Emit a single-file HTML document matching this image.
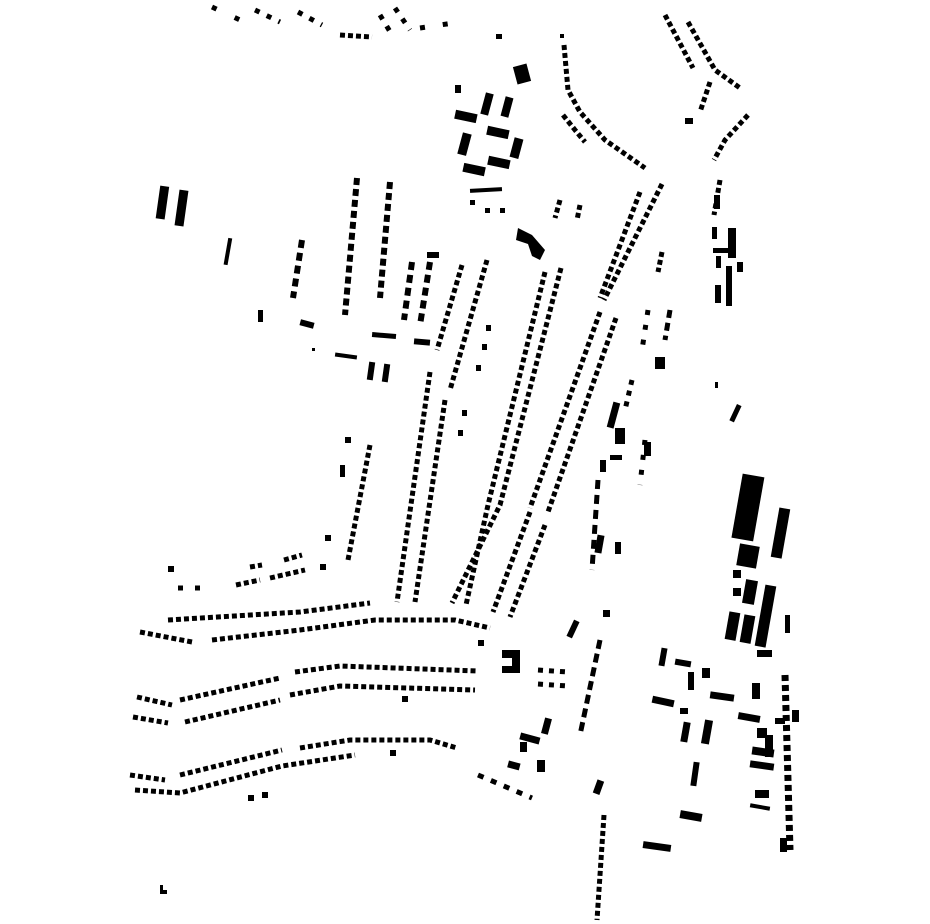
<!DOCTYPE html>
<html><head><meta charset="utf-8"><style>
html,body{margin:0;padding:0;background:#fff;}
svg{display:block}
</style></head><body>
<svg width="930" height="924" viewBox="0 0 930 924" xmlns="http://www.w3.org/2000/svg">
<g fill="none" stroke="#000" stroke-width="5" stroke-dasharray="5 3">
<!-- long central diagonals -->
<polyline points="662,184 604,300"/>
<polyline points="640,192 600,298"/>
<polyline points="616,318 548,512"/>
<polyline points="600,312 530,508"/>
<polyline points="545,525 510,617"/>
<polyline points="530,512 493,612"/>
<polyline points="545,272 488,505 466,605"/>
<polyline points="561,268 500,505 452,603"/>
<polyline points="487,260 450,390"/>
<polyline points="462,265 437,350"/>
<polyline points="430,372 397,602"/>
<polyline points="445,400 415,602"/>
<polyline points="370,445 348,560"/>
<polyline points="662,252 658,272"/>
<polyline points="560,200 555,218"/>
<polyline points="580,205 577,220"/>
<!-- columns left -->
<polyline points="357,178 345,315" stroke-dasharray="7 4" stroke-width="6"/>
<polyline points="390,182 380,298" stroke-dasharray="7 4" stroke-width="6"/>
<polyline points="302,240 293,298" stroke-dasharray="8 5" stroke-width="6"/>
<polyline points="412,262 404,320" stroke-dasharray="8 5" stroke-width="6"/>
<polyline points="430,262 420,325" stroke-dasharray="8 5" stroke-width="6"/>
<!-- top curve -->
<polyline points="564,45 568,90 580,112 605,140 645,168"/>
<polyline points="563,115 575,130 585,142"/>
<polyline points="688,22 715,70 740,88"/>
<polyline points="665,15 693,68"/>
<polyline points="748,115 725,140 714,160"/>
<polyline points="710,82 700,112"/>
<polyline points="720,180 714,215"/>
<!-- top left dots -->
<polyline points="212,7 240,20" stroke-dasharray="5 20"/>
<polyline points="255,10 280,22" stroke-dasharray="5 8"/>
<polyline points="298,12 322,25" stroke-dasharray="5 8"/>
<polyline points="340,35 372,37"/>
<polyline points="380,15 392,35" stroke-dasharray="5 8"/>
<polyline points="395,8 410,30" stroke-dasharray="5 8"/>
<polyline points="420,28 460,22" stroke-dasharray="5 18"/>
<!-- horizontal rows bottom -->
<polyline points="140,632 192,642"/>
<polyline points="212,640 300,630 375,620 455,620 490,628"/>
<polyline points="168,620 300,612 370,603"/>
<polyline points="178,588 200,588" stroke-dasharray="5 12"/>
<polyline points="236,585 260,580"/>
<polyline points="270,578 305,570"/>
<polyline points="250,567 262,565"/>
<polyline points="284,560 302,555"/>
<polyline points="137,697 172,705"/>
<polyline points="185,722 280,700"/>
<polyline points="180,700 280,678"/>
<polyline points="290,695 340,686 475,690"/>
<polyline points="295,672 340,666 478,671"/>
<polyline points="133,717 168,723"/>
<polyline points="130,775 165,780"/>
<polyline points="180,775 282,750"/>
<polyline points="300,748 350,740 430,740 457,748"/>
<polyline points="135,790 180,793 282,766 355,755"/>
<polyline points="538,670 568,672" stroke-dasharray="5 6"/>
<polyline points="538,684 568,686" stroke-dasharray="5 6"/>
<polyline points="604,815 597,920"/>
<polyline points="598,480 592,570" stroke-dasharray="9 6"/>
<polyline points="600,640 580,735" stroke-dasharray="9 5"/>
<polyline points="785,675 790,850" stroke-dasharray="6 4" stroke-width="7"/>
<polyline points="670,310 665,340" stroke-dasharray="8 5"/>
<polyline points="648,310 642,350" stroke-dasharray="5 10"/>
<polyline points="632,380 625,410" stroke-dasharray="5 6"/>
<polyline points="645,440 640,485" stroke-dasharray="5 10"/>
<polyline points="478,775 532,798" stroke-dasharray="6 8"/>
</g>
<g fill="#000">
<!-- top buildings -->
<rect x="515" y="65" width="14" height="18" transform="rotate(-15 522 74)"/>
<rect x="483" y="93" width="8" height="22" transform="rotate(15 487 104)"/>
<rect x="503" y="97" width="8" height="20" transform="rotate(15 507 107)"/>
<rect x="455" y="112" width="22" height="9" transform="rotate(12 466 116)"/>
<rect x="460" y="133" width="9" height="22" transform="rotate(15 464 144)"/>
<rect x="487" y="128" width="22" height="9" transform="rotate(12 498 132)"/>
<rect x="512" y="138" width="9" height="20" transform="rotate(15 516 148)"/>
<rect x="463" y="165" width="22" height="9" transform="rotate(12 474 170)"/>
<rect x="488" y="158" width="22" height="9" transform="rotate(12 499 162)"/>
<rect x="470" y="188" width="32" height="4" transform="rotate(-3 486 190)"/>
<rect x="470" y="200" width="5" height="5"/><rect x="485" y="208" width="5" height="5"/><rect x="500" y="208" width="5" height="5"/>
<rect x="455" y="85" width="6" height="8"/><rect x="496" y="34" width="6" height="5"/>
<path d="M518 228 L532 235 L545 250 L540 260 L532 256 L528 244 L516 240 Z"/>
<!-- left buildings -->
<rect x="158" y="186" width="9" height="33" transform="rotate(8 162 202)"/>
<rect x="177" y="190" width="9" height="36" transform="rotate(8 181 208)"/>
<rect x="226" y="238" width="4" height="27" transform="rotate(10 228 251)"/>
<rect x="258" y="310" width="5" height="12"/>
<rect x="300" y="321" width="14" height="6" transform="rotate(15 307 324)"/>
<rect x="335" y="354" width="22" height="4" transform="rotate(8 346 356)"/>
<rect x="372" y="333" width="24" height="5" transform="rotate(5 384 336)"/>
<rect x="414" y="339" width="16" height="6" transform="rotate(5 422 342)"/>
<rect x="368" y="362" width="6" height="18" transform="rotate(8 371 371)"/>
<rect x="383" y="364" width="6" height="18" transform="rotate(8 386 373)"/>
<rect x="427" y="252" width="12" height="6"/>
<rect x="160" y="885" width="3" height="9"/><rect x="160" y="890" width="7" height="4"/>
<!-- central right small blocks -->
<rect x="610" y="402" width="7" height="26" transform="rotate(15 613 415)"/>
<rect x="615" y="428" width="10" height="16"/>
<rect x="655" y="357" width="10" height="12"/>
<rect x="610" y="455" width="12" height="5"/>
<rect x="644" y="442" width="7" height="14"/>
<rect x="600" y="460" width="6" height="12"/>
<rect x="733" y="404" width="5" height="18" transform="rotate(25 735 413)"/>
<rect x="715" y="382" width="3" height="6"/>
<rect x="596" y="535" width="7" height="18" transform="rotate(10 599 544)"/>
<rect x="615" y="542" width="6" height="12"/>
<rect x="603" y="610" width="7" height="7"/>
<rect x="570" y="620" width="6" height="18" transform="rotate(25 573 629)"/>
<!-- right top cluster -->
<rect x="714" y="195" width="6" height="14"/>
<rect x="712" y="227" width="5" height="12"/>
<rect x="728" y="228" width="8" height="30"/>
<rect x="713" y="248" width="18" height="5"/>
<rect x="716" y="256" width="5" height="12"/>
<rect x="737" y="262" width="6" height="10"/>
<rect x="726" y="266" width="6" height="40"/>
<rect x="715" y="285" width="6" height="18"/>
<rect x="685" y="118" width="8" height="6"/>
<!-- large right blocks -->
<rect x="737" y="475" width="22" height="65" transform="rotate(10 748 507)"/>
<rect x="775" y="508" width="11" height="50" transform="rotate(10 780 533)"/>
<rect x="738" y="545" width="20" height="22" transform="rotate(10 748 556)"/>
<rect x="744" y="580" width="12" height="24" transform="rotate(10 750 592)"/>
<rect x="760" y="585" width="11" height="62" transform="rotate(10 765 616)"/>
<rect x="727" y="612" width="11" height="28" transform="rotate(10 732 626)"/>
<rect x="742" y="615" width="11" height="28" transform="rotate(10 747 629)"/>
<rect x="733" y="570" width="8" height="8"/>
<rect x="733" y="588" width="8" height="8"/>
<rect x="757" y="650" width="15" height="7"/>
<rect x="785" y="615" width="5" height="18"/>
<!-- bottom right cluster -->
<rect x="660" y="648" width="6" height="18" transform="rotate(10 663 657)"/>
<rect x="675" y="660" width="16" height="6" transform="rotate(10 683 663)"/>
<rect x="688" y="672" width="6" height="18"/>
<rect x="702" y="668" width="8" height="10"/>
<rect x="710" y="693" width="24" height="7" transform="rotate(8 722 697)"/>
<rect x="652" y="698" width="22" height="7" transform="rotate(12 663 702)"/>
<rect x="680" y="708" width="8" height="6"/>
<rect x="752" y="683" width="8" height="16"/>
<rect x="738" y="714" width="22" height="7" transform="rotate(10 749 718)"/>
<rect x="703" y="720" width="8" height="24" transform="rotate(10 707 732)"/>
<rect x="682" y="722" width="7" height="20" transform="rotate(10 685 732)"/>
<rect x="757" y="728" width="10" height="10"/>
<rect x="765" y="735" width="8" height="22"/>
<rect x="752" y="748" width="22" height="8" transform="rotate(8 763 752)"/>
<rect x="750" y="762" width="24" height="7" transform="rotate(8 762 765)"/>
<rect x="692" y="762" width="6" height="24" transform="rotate(8 695 774)"/>
<rect x="680" y="812" width="22" height="8" transform="rotate(10 691 816)"/>
<rect x="643" y="843" width="28" height="7" transform="rotate(8 657 846)"/>
<rect x="755" y="790" width="14" height="8"/>
<rect x="750" y="805" width="20" height="4" transform="rotate(10 760 807)"/>
<rect x="775" y="718" width="10" height="6"/>
<rect x="792" y="710" width="7" height="12"/>
<rect x="780" y="838" width="7" height="14"/>
<!-- middle bottom -->
<path d="M502 650 L520 650 L520 673 L502 673 L502 666 L512 666 L512 658 L502 658 Z"/>
<rect x="543" y="718" width="7" height="16" transform="rotate(15 546 726)"/>
<rect x="520" y="735" width="20" height="7" transform="rotate(15 530 738)"/>
<rect x="520" y="742" width="7" height="10"/>
<rect x="508" y="762" width="12" height="7" transform="rotate(15 514 765)"/>
<rect x="537" y="760" width="8" height="12"/>
<rect x="595" y="780" width="7" height="14" transform="rotate(20 598 787)"/>
<rect x="402" y="696" width="6" height="6"/><rect x="390" y="750" width="6" height="6"/>
<rect x="248" y="795" width="6" height="6"/><rect x="262" y="792" width="6" height="6"/>
<rect x="168" y="566" width="6" height="6"/><rect x="320" y="564" width="6" height="6"/>
<rect x="325" y="535" width="6" height="6"/><rect x="345" y="437" width="6" height="6"/>
<rect x="340" y="465" width="5" height="12"/>
<rect x="312" y="348" width="3" height="3"/>
<rect x="486" y="325" width="5" height="6"/><rect x="482" y="344" width="5" height="6"/><rect x="476" y="365" width="5" height="6"/>
<rect x="462" y="410" width="5" height="6"/><rect x="458" y="430" width="5" height="6"/>
<rect x="478" y="640" width="6" height="6"/><rect x="560" y="34" width="4" height="4"/>
</g>
</svg>
</body></html>
